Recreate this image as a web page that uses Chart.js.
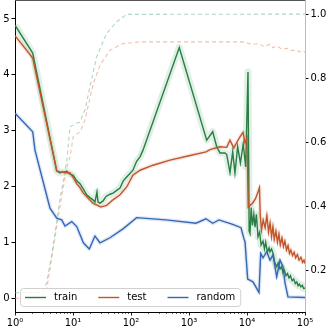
<!DOCTYPE html>
<html>
<head>
<meta charset="utf-8">
<script src="https://cdn.jsdelivr.net/npm/chart.js"></script>
<style>
  body { margin: 0; background: #fff; }
</style>
</head>
<body>
<canvas id="lossChart" width="332" height="332"></canvas>
<script>
// loss curves (left axis)
const trainSteps = [1, 2.02, 5.24, 5.97, 6.38, 7.28, 7.79, 8.88, 10.1, 11.6, 13.2, 15.1, 17.2, 19.6, 22.1, 23.9, 25.9, 27, 29.2, 33, 37.1, 43.4, 48.9, 56.7, 64.6, 73.6, 84.3, 108, 125, 143, 161, 680, 2019, 2562, 3004, 3424, 4175, 4466, 5093, 5667, 6200, 6900, 7700, 8600, 9500, 10400, 10900, 11260, 11800, 12400, 13100, 13740, 14500, 15480, 16500, 17500, 18880, 20000, 21000, 22500, 24000, 24930, 26500, 28080, 30000, 32500, 34500, 37070, 39500, 41780, 44000, 47000, 50000, 53000, 56000, 60000, 64000, 68000, 72000, 76000, 80000, 85000, 90000, 95000, 100000];
const trainLoss = [4.89, 4.39, 2.28, 2.24, 2.26, 2.26, 2.27, 2.22, 2.20, 2.10, 2.05, 1.95, 1.85, 1.80, 1.76, 1.72, 1.90, 1.72, 1.70, 1.74, 1.82, 1.86, 1.88, 1.93, 1.97, 2.10, 2.17, 2.29, 2.45, 2.53, 2.65, 4.49, 2.83, 2.98, 2.71, 2.60, 2.60, 2.57, 2.25, 2.62, 2.24, 2.71, 2.42, 2.76, 2.35, 4.05, 1.20, 1.16, 1.62, 1.30, 1.50, 1.27, 1.50, 1.10, 1.18, 0.95, 1.02, 0.88, 1.00, 0.82, 0.90, 0.83, 0.88, 0.80, 0.64, 0.56, 0.63, 0.52, 0.56, 0.45, 0.50, 0.40, 0.44, 0.36, 0.40, 0.31, 0.34, 0.26, 0.29, 0.22, 0.25, 0.20, 0.23, 0.17, 0.18];

const testSteps = [1, 2.02, 5.24, 5.97, 7.28, 8.88, 10.1, 11.6, 13.2, 15.1, 17.2, 22.1, 30, 38, 48.9, 64.6, 84.3, 108, 143, 240, 470, 1000, 1963, 2302, 3424, 4466, 5093, 5900, 7570, 8530, 9240, 10000, 10500, 11260, 12500, 14000, 15480, 16400, 16900, 17800, 19000, 20500, 22000, 23500, 25000, 26500, 28000, 29500, 31500, 33500, 35500, 37500, 40000, 42500, 45000, 48000, 51000, 54000, 57000, 61000, 65000, 69000, 74000, 79000, 85000, 91000, 96000, 100000];
const testLoss = [4.70, 4.30, 2.28, 2.26, 2.25, 2.24, 2.16, 2.05, 1.98, 1.88, 1.82, 1.70, 1.63, 1.66, 1.76, 1.85, 1.99, 2.20, 2.29, 2.38, 2.47, 2.55, 2.62, 2.66, 2.71, 2.70, 2.83, 2.69, 2.89, 2.97, 2.78, 2.87, 1.63, 1.66, 1.70, 1.78, 1.90, 1.98, 1.50, 1.22, 1.40, 1.26, 1.48, 1.18, 1.35, 1.10, 1.28, 1.05, 1.20, 1.00, 1.15, 0.95, 1.08, 0.92, 1.02, 0.86, 0.94, 0.80, 0.86, 0.76, 0.82, 0.72, 0.78, 0.68, 0.73, 0.64, 0.68, 0.62];

const randomSteps = [1, 2.02, 2.21, 4.01, 5.24, 6.38, 7.28, 9.5, 11.6, 15.1, 19.1, 23.9, 29.2, 43.4, 72.8, 125, 401, 1321, 1963, 2562, 3290, 5667, 7880, 8880, 9240, 10280, 12680, 16100, 17220, 18880, 21860, 24930, 28080, 32500, 37070, 41780, 45220, 50930, 100000];
const randomLoss = [3.31, 2.98, 2.65, 1.61, 1.43, 1.40, 1.29, 1.37, 1.28, 0.99, 0.88, 1.11, 0.99, 1.08, 1.24, 1.44, 1.40, 1.34, 1.42, 1.34, 1.40, 1.32, 1.26, 1.06, 1.01, 0.34, 0.29, 0.10, 0.80, 0.72, 0.83, 0.68, 0.77, 0.38, 0.68, 0.56, 0.27, 0.02, 0.01];

// accuracy curves (right axis)
const trainAccSteps = [1, 2.92, 3.52, 4.40, 5.97, 7.79, 8.88, 10.1, 11.6, 13.2, 15.1, 16.1, 19.6, 25.6, 38.1, 56.7, 84.3, 100000];
const trainAcc = [0.129, 0.129, 0.16, 0.26, 0.42, 0.54, 0.648, 0.653, 0.659, 0.663, 0.69, 0.70, 0.773, 0.867, 0.94, 0.976, 0.999, 1.0];

const testAccSteps = [1, 2.92, 3.52, 4.40, 5.97, 7.79, 8.88, 10.1, 13.2, 16.1, 22.4, 29.2, 43.4, 73.6, 143, 9000, 12000, 16000, 20000, 25000, 28000, 33000, 40000, 50000, 60000, 70000, 80000, 90000, 100000];
const testAcc = [0.112, 0.112, 0.14, 0.25, 0.40, 0.52, 0.554, 0.617, 0.632, 0.669, 0.783, 0.84, 0.8875, 0.908, 0.913, 0.913, 0.905, 0.908, 0.898, 0.906, 0.895, 0.900, 0.890, 0.893, 0.886, 0.889, 0.882, 0.885, 0.881];

const leftTicks = [0, 1, 2, 3, 4, 5];
const rightTicks = [0.2, 0.4, 0.6, 0.8, 1.0];
const legendLabels = ['train', 'test', 'random'];

const GREEN = '#2a7d43';
const ORANGE = '#c2552a';
const BLUE = '#3468b4';
const sup = ['\u2070', '\u00b9', '\u00b2', '\u00b3', '\u2074', '\u2075'];

function pts(xs, ys) {
  return xs.map((x, i) => ({ x: x, y: ys[i] }));
}

function mainLine(label, xs, ys, color, order) {
  return { label: label, data: pts(xs, ys), borderColor: color, borderWidth: 1.4,
    pointRadius: 0, tension: 0, yAxisID: 'y', order: order };
}
function band(xs, ys, color, width) {
  return { label: '', data: pts(xs, ys), borderColor: color, borderWidth: width,
    pointRadius: 0, tension: 0, yAxisID: 'y', order: 20, borderJoinStyle: 'round' };
}
function dashed(xs, ys, color) {
  return { label: '', data: pts(xs, ys), borderColor: color, borderWidth: 1.1,
    borderDash: [4, 3], pointRadius: 0, tension: 0, yAxisID: 'y2', order: 10 };
}

// top spine, x tick marks and the legend box
const extras = {
  id: 'extras',
  afterDraw(chart) {
    const ctx = chart.ctx;
    const a = chart.chartArea;
    const xs = chart.scales.x;
    ctx.save();
    ctx.strokeStyle = '#555';
    ctx.lineWidth = 1;
    ctx.beginPath();
    ctx.moveTo(a.left, a.top + 0.5);
    ctx.lineTo(a.right, a.top + 0.5);
    ctx.stroke();

    // log ticks: majors longer than minors
    ctx.strokeStyle = '#000';
    for (let e = 0; e <= 5; e++) {
      for (let m = 1; m <= 9; m++) {
        const v = m * Math.pow(10, e);
        if (v > 100000) break;
        const px = Math.round(xs.getPixelForValue(v)) + 0.5;
        ctx.lineWidth = m === 1 ? 0.9 : 0.6;
        ctx.beginPath();
        ctx.moveTo(px, a.bottom);
        ctx.lineTo(px, a.bottom + (m === 1 ? 3.5 : 2));
        ctx.stroke();
      }
    }

    // legend
    ctx.font = '10px "DejaVu Sans"';
    const colors = [GREEN, ORANGE, BLUE];
    const boxL = a.left + 5, boxB = a.bottom - 6, boxH = 18;
    let x = boxL + 5;
    const items = legendLabels.map((t, i) => {
      const it = { t: t, c: colors[i], x0: x, tx: x + 29 };
      x = it.tx + ctx.measureText(t).width + 21;
      return it;
    });
    const boxR = x - 21 + 5;
    ctx.fillStyle = 'rgba(255,255,255,0.8)';
    ctx.strokeStyle = '#d0d0d0';
    ctx.lineWidth = 1;
    ctx.beginPath();
    ctx.roundRect(boxL + 0.5, boxB - boxH + 0.5, boxR - boxL, boxH, 3);
    ctx.fill();
    ctx.stroke();
    const cy = boxB - boxH / 2 + 0.5;
    ctx.textBaseline = 'middle';
    items.forEach(it => {
      ctx.strokeStyle = it.c;
      ctx.lineWidth = 1.4;
      ctx.beginPath();
      ctx.moveTo(it.x0, cy);
      ctx.lineTo(it.x0 + 21, cy);
      ctx.stroke();
      ctx.fillStyle = '#000';
      ctx.fillText(it.t, it.tx, cy);
    });
    ctx.restore();
  }
};

const ctx = document.getElementById('lossChart').getContext('2d');
new Chart(ctx, {
  type: 'line',
  data: {
    datasets: [
      mainLine('random', randomSteps, randomLoss, BLUE, 1),
      mainLine('test', testSteps, testLoss, ORANGE, 2),
      mainLine('train', trainSteps, trainLoss, GREEN, 3),
      dashed(trainAccSteps, trainAcc, 'rgba(120,190,150,0.6)'),
      dashed(testAccSteps, testAcc, 'rgba(230,150,120,0.6)'),
      band(trainSteps, trainLoss, 'rgba(60,160,100,0.16)', 7),
      band(testSteps, testLoss, 'rgba(210,110,70,0.16)', 4),
      band(randomSteps, randomLoss, 'rgba(60,110,190,0.16)', 4)
    ]
  },
  options: {
    responsive: false,
    animation: false,
    layout: { padding: 0 },
    plugins: { legend: { display: false }, tooltip: { enabled: false } },
    scales: {
      x: {
        type: 'logarithmic',
        min: 1,
        max: 100000,
        grid: { drawOnChartArea: false, drawTicks: false },
        border: { color: '#000', width: 1 },
        afterBuildTicks: s => { s.ticks = [0, 1, 2, 3, 4, 5].map(e => ({ value: Math.pow(10, e), major: true })); },
        ticks: {
          autoSkip: false,
          maxRotation: 0,
          padding: 5,
          color: '#000',
          font: { family: 'DejaVu Sans', size: 10 },
          callback: v => '10' + sup[Math.round(Math.log10(v))]
        },
        afterFit: s => { s.height = 20; s.paddingLeft = 0; s.paddingRight = 0; }
      },
      y: {
        position: 'left',
        min: -0.25,
        max: 5.34,
        grid: { drawOnChartArea: false, tickLength: 3.5, tickColor: '#000' },
        border: { color: '#000', width: 1 },
        afterBuildTicks: s => { s.ticks = leftTicks.map(v => ({ value: v })); },
        ticks: { padding: 2, color: '#000', font: { family: 'DejaVu Sans', size: 10 } },
        afterFit: s => { s.width = 15; s.paddingTop = 0; s.paddingBottom = 0; }
      },
      y2: {
        position: 'right',
        min: 0.069,
        max: 1.044,
        grid: { drawOnChartArea: false, tickLength: 3.5, tickColor: '#000' },
        border: { color: '#bbb', width: 1, dash: [3, 2] },
        afterBuildTicks: s => { s.ticks = rightTicks.map(v => ({ value: v })); },
        ticks: { padding: 2, color: '#000', font: { family: 'DejaVu Sans', size: 10 },
          callback: v => v.toFixed(1) },
        afterFit: s => { s.width = 27; s.paddingTop = 0; s.paddingBottom = 0; }
      }
    }
  },
  plugins: [extras]
});
</script>
</body>
</html>
